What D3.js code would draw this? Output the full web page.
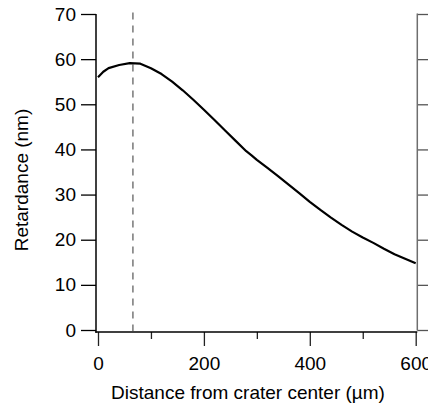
<!DOCTYPE html>
<html>
<head>
<meta charset="utf-8">
<script src="https://cdn.jsdelivr.net/npm/d3@7"></script>
<style>
  html, body { margin: 0; padding: 0; background: #fff; }
  svg { display: block; font-family: "Liberation Sans", Arial, sans-serif; }
</style>
</head>
<body>
<svg id="chart" width="428" height="408"></svg>
<script>
const distance = [0, 10, 20, 40, 60, 80, 100, 120, 140, 160, 180, 200, 220, 240, 260, 280, 290, 300, 320, 340, 360, 380, 400, 420, 440, 460, 480, 500, 520, 540, 560, 580, 600];
const retardance = [56.0, 57.2, 58.0, 58.7, 59.1, 59.0, 58.0, 56.7, 55.0, 53.1, 51.0, 48.8, 46.5, 44.2, 41.9, 39.6, 38.7, 37.7, 35.9, 34.1, 32.2, 30.3, 28.4, 26.6, 24.9, 23.3, 21.8, 20.5, 19.3, 18.0, 16.8, 15.8, 14.8];
const markerX = 66;
const xMajorTicks = [0, 200, 400, 600];
const xMinorTicks = [100, 300, 500];
const yTicks = [0, 10, 20, 30, 40, 50, 60, 70];
const xTitle = "Distance from crater center (µm)";
const yTitle = "Retardance (nm)";

const svg = d3.select("#chart");
const x = d3.scaleLinear().domain([0, 600]).range([98, 415.7]);
const y = d3.scaleLinear().domain([0, 70]).range([330, 14]);
const fontSize = 19;

// Left axis
const leftAxis = d3.axisLeft(y).tickValues(yTicks).tickSize(15).tickPadding(5).tickSizeOuter(0);
const gl = svg.append("g").attr("transform", "translate(96,0)").call(leftAxis);
gl.select(".domain").remove();
gl.selectAll(".tick line").attr("stroke", "#000").attr("stroke-width", 1.3);
gl.selectAll(".tick text").attr("font-size", fontSize).attr("fill", "#000").attr("font-family", "Liberation Sans, Arial, sans-serif");
svg.append("line").attr("x1", 96).attr("x2", 96).attr("y1", y(70)).attr("y2", 332.7)
  .attr("stroke", "#000").attr("stroke-width", 1.5);

// Right mirror axis
const rightAxis = d3.axisRight(y).tickValues(yTicks).tickSize(15).tickFormat("").tickSizeOuter(0);
const gr = svg.append("g").attr("transform", "translate(417.3,0)").call(rightAxis);
gr.select(".domain").remove();
gr.selectAll(".tick line").attr("stroke", "#555").attr("stroke-width", 1.3);
svg.append("line").attr("x1", 417.3).attr("x2", 417.3).attr("y1", y(70) - 0.6).attr("y2", y(0) + 0.6)
  .attr("stroke", "#6e6e6e").attr("stroke-width", 1.5);

// Bottom axis
const bottomAxis = d3.axisBottom(x).tickValues(xMajorTicks).tickSize(14).tickPadding(11).tickSizeOuter(0);
const gb = svg.append("g").attr("transform", "translate(0,332)").call(bottomAxis);
gb.select(".domain").remove();
gb.selectAll(".tick line").attr("stroke", "#222").attr("stroke-width", 1.3);
gb.selectAll(".tick text").attr("font-size", fontSize).attr("fill", "#000").attr("font-family", "Liberation Sans, Arial, sans-serif");
const minorAxis = d3.axisBottom(x).tickValues(xMinorTicks).tickSize(7).tickFormat("").tickSizeOuter(0);
const gm = svg.append("g").attr("transform", "translate(0,332)").call(minorAxis);
gm.select(".domain").remove();
gm.selectAll(".tick line").attr("stroke", "#222").attr("stroke-width", 1.3);
svg.append("line").attr("x1", 95.3).attr("x2", 417.3).attr("y1", 332).attr("y2", 332)
  .attr("stroke", "#000").attr("stroke-width", 1.5);

// Dashed marker
svg.append("line").attr("x1", x(markerX)).attr("x2", x(markerX)).attr("y1", 12.5).attr("y2", 331)
  .attr("stroke", "#333").attr("stroke-width", 1).attr("stroke-dasharray", "7,6");

// Curve
const line = d3.line().x((d, i) => x(distance[i])).y(d => y(d));
svg.append("path").datum(retardance).attr("d", line)
  .attr("fill", "none").attr("stroke", "#000").attr("stroke-width", 2.2).attr("stroke-linejoin", "round");

// Titles
svg.append("text").attr("x", 248).attr("y", 399)
  .attr("text-anchor", "middle").attr("font-size", fontSize).attr("fill", "#000").text(xTitle);
svg.append("text").attr("transform", "translate(28,180) rotate(-90)")
  .attr("text-anchor", "middle").attr("font-size", fontSize).attr("fill", "#000").text(yTitle);
</script>
</body>
</html>
